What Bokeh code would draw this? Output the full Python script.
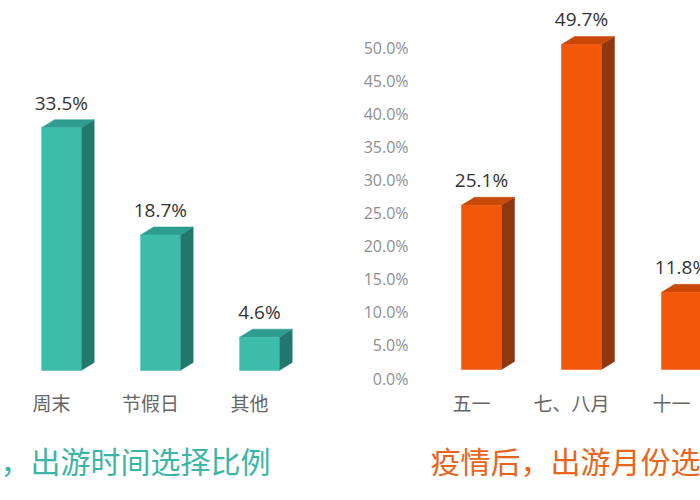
from bokeh.plotting import figure
from bokeh.models import Range1d, FixedTicker, LinearAxis, Title, PrintfTickFormatter
from bokeh.layouts import row
from bokeh.embed import file_html
from bokeh.resources import INLINE
from bokeh.core.properties import value

# ---------------- data ----------------
left_categories = ["周末", "节假日", "其他"]
left_values = [33.5, 18.7, 4.6]
left_title = "，出游时间选择比例"

right_categories = ["五一", "七、八月", "十一"]
right_values = [25.1, 49.7, 11.8]
right_title = "疫情后，出游月份选"
right_ticks = [0, 5, 10, 15, 20, 25, 30, 35, 40, 45, 50]

CJK = "Noto Sans CJK SC"
NUM = "Open Sans"


def draw_3d_bars(p, positions, vals, front, side, top, x_px, y_px):
    """3D-looking bars: front face + side face + top face."""
    shift = 0.10           # bars sit slightly right of the category label
    w = 0.40               # front face width
    dx = 13.0 / x_px       # depth, horizontal
    dy = 8.0 / y_px        # depth, vertical
    bx = [c + shift for c in positions]
    side_xs, side_ys, top_xs, top_ys = [], [], [], []
    for x, v in zip(bx, vals):
        r, l = x + w / 2, x - w / 2
        side_xs.append([r, r + dx, r + dx, r])
        side_ys.append([0, dy, v + dy, v])
        top_xs.append([l, r, r + dx, l + dx])
        top_ys.append([v, v, v + dy, v + dy])
    p.patches(side_xs, side_ys, fill_color=side, line_color=side, line_width=0.5)
    p.patches(top_xs, top_ys, fill_color=top, line_color=top, line_width=0.5)
    p.vbar(x=bx, top=vals, bottom=0, width=w, fill_color=front, line_color=front, line_width=0.5)
    p.text(x=bx, y=vals, text=[f"{v:.1f}%" for v in vals], text_align="center",
           text_baseline="bottom", y_offset=-12, x_offset=0,
           text_font=value(NUM), text_font_size="19px", text_color="#333333")


def style_common(p, cats, positions):
    p.outline_line_color = None
    p.grid.visible = False
    p.background_fill_color = "white"
    p.border_fill_color = "white"
    xa = p.xaxis[0]
    xa.ticker = FixedTicker(ticks=positions)
    xa.major_label_overrides = {pos: c for pos, c in zip(positions, cats)}
    xa.axis_line_color = None
    xa.major_tick_line_color = None
    xa.minor_tick_line_color = None
    xa.major_tick_out = 0
    xa.major_label_standoff = 3
    xa.major_label_text_font = CJK
    xa.major_label_text_font_size = "19px"
    xa.major_label_text_color = "#666666"


# ---------------- left chart ----------------
lpos = [1, 2, 3]
LX_PX, LY_PX = 99.0, 7.25
left = figure(width=338, height=500, output_backend="svg", toolbar_location=None,
              x_range=Range1d(1 - 51 / LX_PX, 1 + 287 / LX_PX),
              y_range=Range1d(-15 / LY_PX, 370 / LY_PX),
              y_axis_location=None,
              min_border_left=0, min_border_right=0, min_border_top=0, min_border_bottom=115)
style_common(left, left_categories, lpos)
draw_3d_bars(left, lpos, left_values, "#3dbcab", "#23786e", "#2e9c8e", LX_PX, LY_PX)
left.add_layout(Title(text=left_title, align="left", standoff=35,
                      text_font=CJK, text_font_size="30px", text_font_style="normal",
                      text_color="#3db5a5"), "below")

# ---------------- right chart ----------------
rpos = [1, 2, 3]
RX_PX, RY_PX = 100.0, 6.54
right = figure(width=362, height=500, output_backend="svg", toolbar_location=None,
               x_range=Range1d(1 - 56 / RX_PX, 1 + 229 / RX_PX),
               y_range=Range1d(-16 / RY_PX, 369 / RY_PX),
               y_axis_location=None,
               min_border_left=77, min_border_right=0, min_border_top=0, min_border_bottom=115)
right.extra_y_ranges = {"ax": Range1d(-7 / 6.62, 378 / 6.62)}
yax = LinearAxis(y_range_name="ax", ticker=FixedTicker(ticks=right_ticks),
                 formatter=PrintfTickFormatter(format="%.1f%%"))
yax.axis_line_color = None
yax.major_tick_line_color = None
yax.minor_tick_line_color = None
yax.major_tick_out = 0
yax.major_label_standoff = 7
yax.major_label_text_font = NUM
yax.major_label_text_font_size = "16px"
yax.major_label_text_color = "#8f8f8f"
right.add_layout(yax, "left")
style_common(right, right_categories, rpos)
draw_3d_bars(right, rpos, right_values, "#f2570a", "#8f3710", "#c94909", RX_PX, RY_PX)
right.add_layout(Title(text=right_title, align="left", standoff=35, offset=15,
                       text_font=CJK, text_font_size="30px", text_font_style="normal",
                       text_color="#e8651d"), "below")

layout = row(left, right)
open("out.html", "w").write(file_html(layout, INLINE))
